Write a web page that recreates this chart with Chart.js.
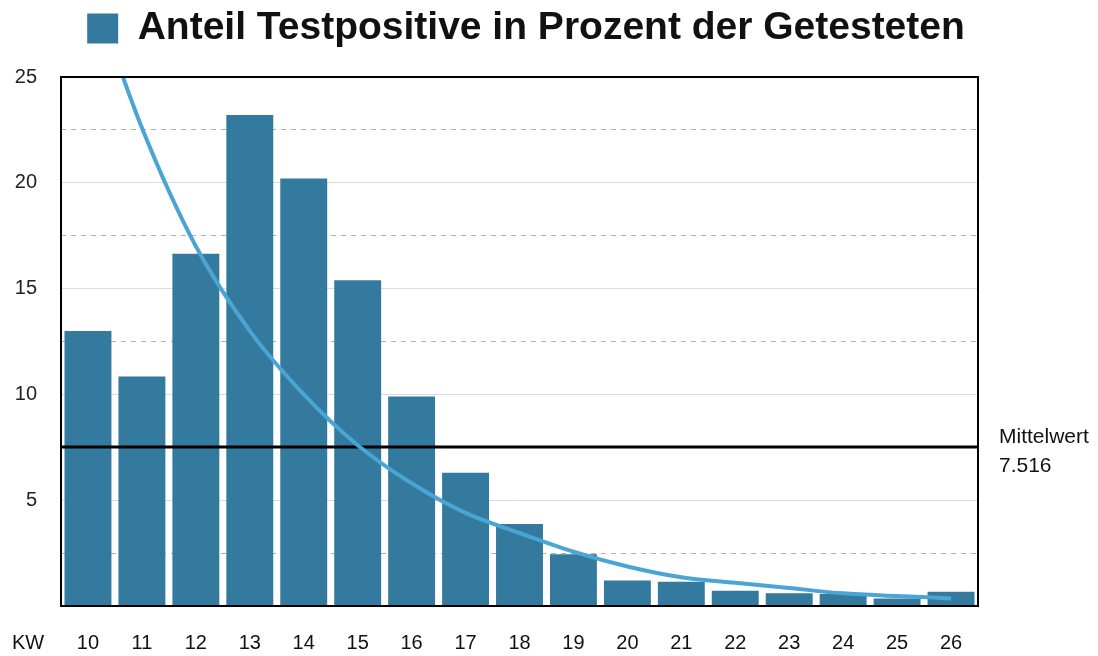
<!DOCTYPE html>
<html>
<head>
<meta charset="utf-8">
<script src="https://cdn.jsdelivr.net/npm/chart.js@4.4.1/dist/chart.umd.min.js"></script>
<style>
  html, body { margin: 0; padding: 0; background: #fff; }
  #wrap { width: 1098px; height: 656px; }
</style>
</head>
<body>
<div id="wrap"><canvas id="myChart" width="1098" height="656"></canvas></div>
<script>
// Kalenderwochen
const weeks = ["10", "11", "12", "13", "14", "15", "16", "17", "18", "19", "20", "21", "22", "23", "24", "25", "26"];
// Anteil Testpositive (%)
const positiveShare = [13.0, 10.85, 16.65, 23.2, 20.2, 15.4, 9.9, 6.3, 3.87, 2.45, 1.2, 1.15, 0.72, 0.6, 0.57, 0.35, 0.67];
// Trendlinie
const trendValues = [29.7, 22.6, 17.0, 13.0, 10.0, 7.6, 5.8, 4.4, 3.45, 2.57, 1.87, 1.36, 1.1, 0.85, 0.6, 0.47, 0.36];
const meanValue = 7.516;
const yTicks = [5, 10, 15, 20, 25];

const FONT = "'Liberation Sans', Arial, Helvetica, sans-serif";

// frame, mean line and extra labels
const extrasPlugin = {
  id: "extras",
  afterLayout(chart) {
    // move the legend a bit right and up, like in the original
    const lg = chart.legend;
    lg.left += 37;
    lg.right += 37;
    lg.top -= 19;
    lg.bottom -= 19;
  },
  afterDatasetDraw(chart, args) {
    if (args.index !== 0) return;
    const ctx = chart.ctx;
    const area = chart.chartArea;
    const y = chart.scales.y.getPixelForValue(meanValue);
    ctx.save();
    ctx.strokeStyle = "#000";
    ctx.lineWidth = 3;
    ctx.beginPath();
    ctx.moveTo(area.left, y);
    ctx.lineTo(area.right, y);
    ctx.stroke();
    ctx.restore();
  },
  afterDraw(chart) {
    const ctx = chart.ctx;
    const area = chart.chartArea;
    const y = chart.scales.y.getPixelForValue(meanValue);
    ctx.save();
    ctx.strokeStyle = "#000";
    ctx.lineWidth = 2;
    ctx.strokeRect(area.left, area.top, area.right - area.left, area.bottom - area.top);

    ctx.fillStyle = "#111";
    ctx.font = "21px " + FONT;
    ctx.textAlign = "left";
    ctx.textBaseline = "middle";
    ctx.fillText("Mittelwert", area.right + 21, y - 10);
    ctx.fillText(meanValue.toString(), area.right + 21, y + 19);

    ctx.font = "20px " + FONT;
    ctx.fillText("KW", 12, area.bottom + 37);
    ctx.restore();
  }
};

const ctx = document.getElementById("myChart").getContext("2d");

const myChart = new Chart(ctx, {
  type: "bar",
  data: {
    labels: weeks,
    datasets: [
      {
        label: "Anteil Testpositive in Prozent der Getesteten",
        data: positiveShare,
        backgroundColor: "#337a9e",
        borderWidth: 0,
        categoryPercentage: 0.87,
        barPercentage: 1.0,
        order: 2,
      },
      {
        type: "line",
        label: "Trend",
        data: trendValues,
        borderColor: "#4aa5d5",
        borderWidth: 4,
        pointRadius: 0,
        cubicInterpolationMode: "monotone",
        fill: false,
        order: 1,
      },
    ],
  },
  options: {
    responsive: false,
    animation: false,
    layout: {
      padding: { top: 14, right: 120, bottom: 0, left: 0 },
    },
    plugins: {
      legend: {
        display: true,
        labels: {
          filter: (item) => item.datasetIndex === 0,
          boxWidth: 31,
          boxHeight: 30,
          color: "#111",
          padding: 14,
          font: { family: FONT, size: 39, weight: "bold" },
        },
      },
      tooltip: { enabled: false },
    },
    scales: {
      x: {
        afterFit: (scale) => { scale.height = 50; },
        grid: { display: false },
        border: { display: false },
        ticks: {
          color: "#111",
          padding: 17,
          font: { family: FONT, size: 20 },
        },
      },
      y: {
        min: 0,
        max: 25,
        afterFit: (scale) => { scale.width = 61; },
        ticks: {
          stepSize: 2.5,
          padding: 24,
          color: "#222",
          font: { family: FONT, size: 20 },
          callback: (value) => (yTicks.includes(value) ? value : ""),
        },
        grid: {
          drawTicks: false,
          lineWidth: 1,
          color: (c) => (c.tick && c.tick.value % 5 !== 0 ? "#b0b0b0" : "#dcdcdc"),
        },
        border: {
          display: false,
          dash: (c) => (c.tick && c.tick.value % 5 !== 0 ? [5, 5] : []),
        },
      },
    },
  },
  plugins: [extrasPlugin],
});
</script>
</body>
</html>
